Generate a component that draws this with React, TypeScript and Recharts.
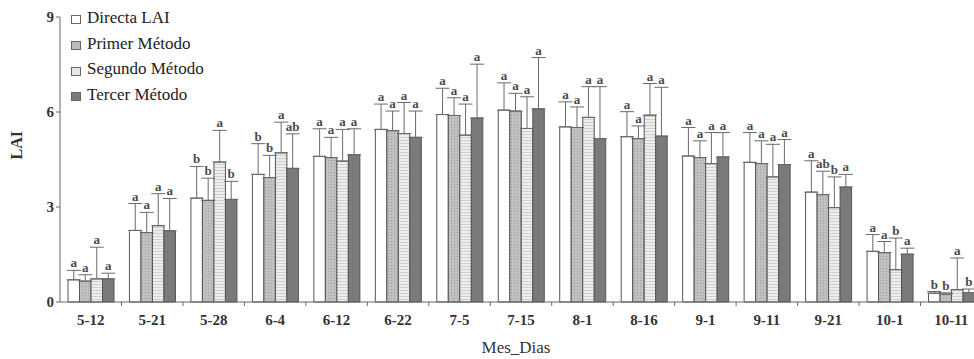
import React from 'react';
import { BarChart, Bar, XAxis, YAxis, ErrorBar, LabelList } from 'recharts';

const categories = ['5-12', '5-21', '5-28', '6-4', '6-12', '6-22', '7-5', '7-15', '8-1', '8-16', '9-1', '9-11', '9-21', '10-1', '10-11'];

const directa = [0.70, 2.26, 3.28, 4.03, 4.60, 5.45, 5.92, 6.06, 5.53, 5.22, 4.61, 4.41, 3.47, 1.60, 0.28];
const primer = [0.66, 2.19, 3.21, 3.93, 4.56, 5.41, 5.89, 6.03, 5.51, 5.16, 4.56, 4.37, 3.39, 1.56, 0.25];
const segundo = [0.73, 2.41, 4.42, 4.71, 4.45, 5.32, 5.27, 5.48, 5.83, 5.90, 4.37, 3.95, 2.98, 1.02, 0.39];
const tercer = [0.73, 2.25, 3.24, 4.22, 4.65, 5.20, 5.81, 6.10, 5.16, 5.24, 4.58, 4.34, 3.63, 1.51, 0.30];

// upper error only
const directaErr = [0.30, 0.85, 1.00, 0.97, 0.87, 0.80, 0.83, 0.86, 0.79, 0.79, 0.90, 0.94, 0.99, 0.53, 0.05];
const primerErr = [0.20, 0.64, 0.70, 0.70, 0.64, 0.62, 0.56, 0.56, 0.65, 0.40, 0.53, 0.72, 0.74, 0.35, 0.04];
const segundoErr = [1.00, 1.01, 1.00, 0.97, 1.00, 0.98, 0.98, 1.00, 0.97, 1.00, 0.98, 1.03, 0.97, 1.00, 1.00];
const tercerErr = [0.18, 1.02, 0.57, 1.09, 0.82, 0.83, 1.70, 1.62, 1.64, 1.54, 0.77, 0.79, 0.40, 0.19, 0.11];

const directaSig = ['a', 'a', 'b', 'b', 'a', 'a', 'a', 'a', 'a', 'a', 'a', 'a', 'a', 'a', 'b'];
const primerSig = ['a', 'a', 'b', 'b', 'a', 'a', 'a', 'a', 'a', 'a', 'a', 'a', 'ab', 'a', 'b'];
const segundoSig = ['a', 'a', 'a', 'a', 'a', 'a', 'a', 'a', 'a', 'a', 'a', 'a', 'b', 'b', 'a'];
const tercerSig = ['a', 'a', 'b', 'ab', 'a', 'a', 'a', 'a', 'a', 'a', 'a', 'a', 'a', 'a', 'b'];

const yTicks = [0, 3, 6, 9];

const SERIES = [
  { key: 'directa', name: 'Directa LAI', fill: '#ffffff', vals: directa, err: directaErr, sig: directaSig },
  { key: 'primer', name: 'Primer Método', fill: 'url(#patPrimer)', vals: primer, err: primerErr, sig: primerSig },
  { key: 'segundo', name: 'Segundo Método', fill: 'url(#patSegundo)', vals: segundo, err: segundoErr, sig: segundoSig },
  { key: 'tercer', name: 'Tercer Método', fill: '#7a7a7a', vals: tercer, err: tercerErr, sig: tercerSig },
];

const LEGEND_ICON = ['#ffffff', '#bdbdbd', '#e6e6e6', '#7a7a7a'];

const FONT = '"Liberation Serif", "DejaVu Serif", serif';
const CHART_W = 982;
const CHART_H = 359;
const Y_AXIS_W = 60;
const HALF_BAND = (CHART_W - Y_AXIS_W) / categories.length / 2;

const data = categories.map((c, i) => {
  const row: any = { cat: c };
  SERIES.forEach(s => {
    row[s.key] = s.vals[i];
    row[s.key + 'Err'] = [0, s.err[i]];
  });
  return row;
});

const renderSig = (s: typeof SERIES[number]) => (p: any) => {
  const x = p.x ?? p.viewBox?.x;
  const y = p.y ?? p.viewBox?.y;
  const width = p.width ?? p.viewBox?.width;
  const height = p.height ?? p.viewBox?.height;
  const i = p.index;
  const v = s.vals[i];
  if (!v || !height) return null;
  const perUnit = height / v;
  const capY = y + height - (v + s.err[i]) * perUnit;
  return (
    <text x={x + width / 2} y={capY - 3} textAnchor="middle" fontFamily={FONT} fontWeight="bold" fontSize={13} fill="#4a4a4a">
      {s.sig[i]}
    </text>
  );
};

const XTick = (props: any) => {
  const { x, y, payload } = props;
  return (
    <g>
      <line x1={x + HALF_BAND} x2={x + HALF_BAND} y1={y} y2={y + 4} stroke="#666" />
      <text x={x} y={y + 23} textAnchor="middle" fontFamily={FONT} fontWeight="bold" fontSize={15} fill="#333">
        {payload.value}
      </text>
    </g>
  );
};

const App: React.FC = () => {
  return (
    <div style={{ position: 'absolute', left: 0, top: 0, width: 974, height: 359, overflow: 'hidden', background: '#fff' }}>
      <svg width={0} height={0} style={{ position: 'absolute' }}>
        <defs>
          <pattern id="patPrimer" width={3} height={3} patternUnits="userSpaceOnUse">
            <rect width={3} height={3} fill="#c0c0c0" />
            <rect x={1} y={1} width={1} height={1} fill="#9e9e9e" />
          </pattern>
          <pattern id="patSegundo" width={4} height={3} patternUnits="userSpaceOnUse">
            <rect width={4} height={3} fill="#eeeeee" />
            <rect y={2} width={4} height={1} fill="#cfcfcf" />
          </pattern>
        </defs>
      </svg>
      <BarChart
        width={CHART_W}
        height={CHART_H}
        data={data}
        margin={{ top: 17, right: 0, bottom: 0, left: 0 }}
        barGap={0}
        barSize={11.5}
      >
        <XAxis
          dataKey="cat"
          height={57}
          tickSize={0}
          tickMargin={0}
          tick={<XTick />}
          interval={0}
          stroke="#666"
          label={{ value: 'Mes_Dias', position: 'insideBottom', offset: 6, dx: -5, fontFamily: FONT, fontSize: 17, fill: '#333' }}
        />
        <YAxis
          domain={[0, 9]}
          ticks={yTicks}
          width={Y_AXIS_W}
          tickSize={4}
          stroke="#666"
          tick={{ fontFamily: FONT, fontWeight: 'bold', fontSize: 15, fill: '#333' }}
          label={{ value: 'LAI', angle: -90, position: 'insideLeft', offset: 16, fontFamily: FONT, fontWeight: 'bold', fontSize: 16, fill: '#333' }}
        />
        {SERIES.map(s => (
          <Bar key={s.key} dataKey={s.key} name={s.name} fill={s.fill} stroke="#555" strokeWidth={1} isAnimationActive={false}>
            <ErrorBar dataKey={s.key + 'Err'} width={7} stroke="#6a6a6a" strokeWidth={1} isAnimationActive={false} />
            <LabelList dataKey={s.key} content={renderSig(s)} />
          </Bar>
        ))}
      </BarChart>
      <div style={{ position: 'absolute', left: 71, top: 5, fontFamily: FONT, fontSize: 17, color: '#222' }}>
        {SERIES.map((s, i) => (
          <div key={s.key} style={{ display: 'flex', alignItems: 'center', height: 25.7 }}>
            <div style={{ width: 8, height: 7, marginTop: 4, background: LEGEND_ICON[i], border: '1px solid #666', marginRight: 6 }} />
            <span>{s.name}</span>
          </div>
        ))}
      </div>
    </div>
  );
};

export default App;
